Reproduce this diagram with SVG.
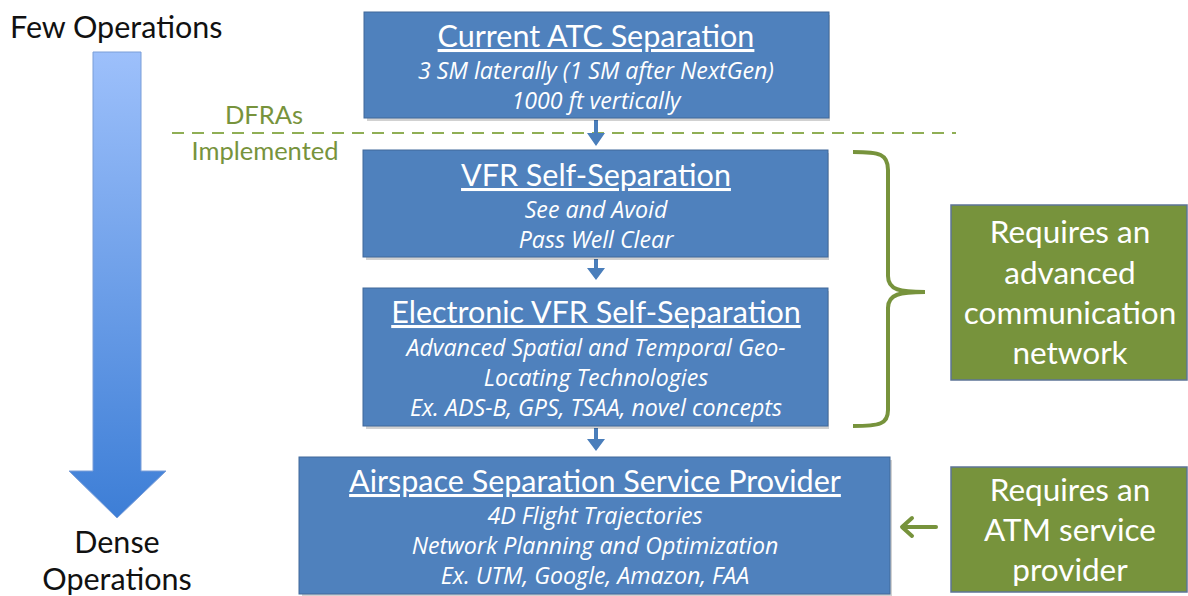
<svg xmlns="http://www.w3.org/2000/svg" width="1188" height="596" viewBox="0 0 1188 596">
<defs>
<style>
.lbl{font-family:Lato,"Liberation Sans",sans-serif;fill:#111;font-size:30.5px}
.grn{font-family:Lato,"Liberation Sans",sans-serif;fill:#77933c;font-size:25.5px}
.box{fill:#4f81bd;stroke:#41699a;stroke-width:1}
.shadow{fill:#000;opacity:0.18}
.gbox{fill:#77933c;stroke:#5d7497;stroke-width:1.5}
.t{font-family:Lato,"Liberation Sans",sans-serif;fill:#fff;font-size:30.5px;text-anchor:middle;text-decoration:underline}
.s{font-family:"Open Sans","Liberation Sans",sans-serif;fill:#fff;font-size:23.2px;font-style:italic;text-anchor:middle}
.g{font-family:Lato,"Liberation Sans",sans-serif;fill:#fff;font-size:31.5px;text-anchor:middle}
.conn{fill:#4a7ebb}
</style>
<linearGradient id="ag" x1="0" y1="0" x2="0" y2="1">
<stop offset="0" stop-color="#9dc0fb"/>
<stop offset="1" stop-color="#3d7ed6"/>
</linearGradient>
</defs>

<g id="density-arrow">
<path d="M93,52 H141 V471 H166 L117,518 L69,471 H93 Z" fill="url(#ag)" stroke="#7a9ed8" stroke-width="1"/>
<text class="lbl" x="10" y="38">Few Operations</text>
<text class="lbl" x="117" y="553" text-anchor="middle">Dense</text>
<text class="lbl" x="117" y="590" text-anchor="middle">Operations</text>
</g>

<g id="dfra">
<line x1="172" y1="133" x2="956" y2="133" stroke="#8fae55" stroke-width="2" stroke-dasharray="12,8"/>
<text class="grn" x="264" y="124" text-anchor="middle">DFRAs</text>
<text class="grn" x="265" y="160" text-anchor="middle">Implemented</text>
</g>

<g id="connectors">
<path class="conn" d="M594,120 h4 v13 h7 l-9,13 l-9,-13 h7 Z"/>
<path class="conn" d="M594,259 h4 v9 h7 l-9,12 l-9,-12 h7 Z"/>
<path class="conn" d="M594,428 h4 v11 h7 l-9,12 l-9,-12 h7 Z"/>
<g id="green-arrow" stroke="#77933c" stroke-width="4" fill="none" stroke-linecap="round">
<line x1="936" y1="527" x2="904" y2="527"/>
<path d="M912,518 L902,527 L912,536" stroke-linejoin="round"/>
</g>
<path id="brace" d="M853,152 C880,152 888,154 888,170 V276 C888,290 900,292 925,292 C900,292 888,294 888,308 V410 C888,424 880,426 853,426" fill="none" stroke="#77933c" stroke-width="4"/>
</g>

<g id="atc">
<rect class="shadow" x="367" y="15" width="463" height="106"/>
<rect class="box" x="364" y="12" width="465" height="106"/>
<text class="t" x="596" y="47">Current ATC Separation</text>
<text class="s" x="596" y="79">3 SM laterally (1 SM after NextGen)</text>
<text class="s" x="596" y="109">1000 ft vertically</text>
</g>

<g id="vfr">
<rect class="shadow" x="366" y="153" width="463" height="107"/>
<rect class="box" x="363" y="150" width="465" height="107"/>
<text class="t" x="596" y="186">VFR Self-Separation</text>
<text class="s" x="596" y="218">See and Avoid</text>
<text class="s" x="596" y="248">Pass Well Clear</text>
</g>

<g id="evfr">
<rect class="shadow" x="366" y="291" width="463" height="138"/>
<rect class="box" x="363" y="288" width="465" height="138"/>
<text class="t" x="596" y="323">Electronic VFR Self-Separation</text>
<text class="s" x="596" y="356">Advanced Spatial and Temporal Geo-</text>
<text class="s" x="596" y="386">Locating Technologies</text>
<text class="s" x="596" y="416">Ex. ADS-B, GPS, TSAA, novel concepts</text>
</g>

<g id="assp">
<rect class="shadow" x="302" y="460" width="590" height="137"/>
<rect class="box" x="299" y="457" width="591" height="137"/>
<text class="t" x="595" y="492">Airspace Separation Service Provider</text>
<text class="s" x="595" y="524">4D Flight Trajectories</text>
<text class="s" x="595" y="554">Network Planning and Optimization</text>
<text class="s" x="595" y="584">Ex. UTM, Google, Amazon, FAA</text>
</g>

<g id="comm-network">
<rect class="gbox" x="951" y="205" width="236" height="175"/>
<text class="g" x="1070" y="243">Requires an</text>
<text class="g" x="1070" y="284">advanced</text>
<text class="g" x="1070" y="324">communication</text>
<text class="g" x="1070" y="364">network</text>
</g>

<g id="atm-provider">
<rect class="gbox" x="951" y="467" width="236" height="125"/>
<text class="g" x="1070" y="501">Requires an</text>
<text class="g" x="1070" y="541">ATM service</text>
<text class="g" x="1070" y="581">provider</text>
</g>
</svg>
